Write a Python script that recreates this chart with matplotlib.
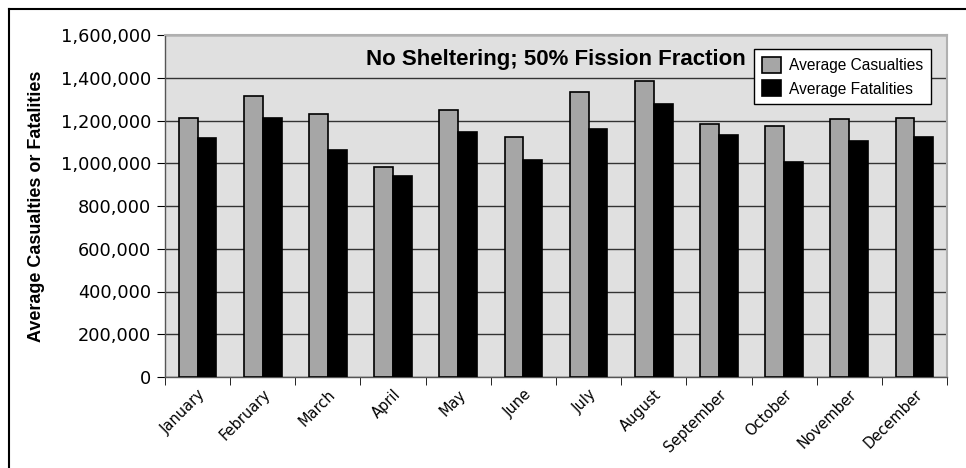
import matplotlib.pyplot as plt
import numpy as np
from matplotlib.ticker import FuncFormatter

months = ["January", "February", "March", "April", "May", "June", "July",
          "August", "September", "October", "November", "December"]
casualties = [1214000, 1314000, 1231000, 983000, 1250000, 1125000, 1335000,
              1386000, 1182000, 1176000, 1207000, 1214000]
fatalities = [1120000, 1214000, 1061000, 941000, 1147000, 1013000, 1159000,
              1279000, 1133000, 1008000, 1106000, 1123000]

plt.rcParams['font.family'] = ['DejaVu Sans']

fig = plt.figure(figsize=(9.66, 4.68), dpi=100)
ax = fig.add_axes([165/966, 91/468, 782/966, 342/468])

x = np.arange(len(months))
w = 0.29
ax.bar(x - w/2, casualties, w, color='#a6a6a6', edgecolor='black', linewidth=1.2,
       label='Average Casualties', zorder=3)
ax.bar(x + w/2, fatalities, w, color='black', edgecolor='black', linewidth=1.2,
       label='Average Fatalities', zorder=3)

ax.set_facecolor('#e0e0e0')
ax.set_xlim(-0.5, len(months) - 0.5)
ax.set_ylim(0, 1600000)
ax.set_yticks(np.arange(0, 1600001, 200000))
ax.yaxis.set_major_formatter(FuncFormatter(lambda v, p: f"{int(v):,}"))
ax.grid(axis='y', color='#333333', linewidth=1, zorder=1)

ax.set_xticks(x)
ax.set_xticklabels(months, rotation=45, ha='right', rotation_mode='anchor', fontsize=10.5)
ax.set_xticks(np.arange(-0.5, len(months)), minor=True)
ax.tick_params(axis='x', which='major', length=0, pad=7)
ax.tick_params(axis='x', which='minor', length=6, direction='out')
ax.tick_params(axis='y', length=6, direction='out', labelsize=12.8, pad=4)

for s in ['top', 'right']:
    ax.spines[s].set_color('#b0b0b0')
    ax.spines[s].set_linewidth(1.5)
for s in ['left', 'bottom']:
    ax.spines[s].set_color('#555555')
    ax.spines[s].set_linewidth(1)

ax.set_ylabel('Average Casualties or Fatalities', fontsize=13, fontweight='bold',
              labelpad=11, family='Liberation Sans')
ax.text(0.5, 0.927, 'No Sheltering; 50% Fission Fraction', transform=ax.transAxes,
        ha='center', va='center', fontsize=16, fontweight='bold', zorder=5,
        family='Liberation Sans')

leg = ax.legend(loc='upper right', bbox_to_anchor=(0.979, 0.958), borderaxespad=0,
                prop={'family': 'Liberation Sans', 'size': 11.2},
                fancybox=False, framealpha=1, edgecolor='black',
                handlelength=1.2, handleheight=1.2, borderpad=0.5, labelspacing=0.45,
                handletextpad=0.5)
leg.get_frame().set_linewidth(1)
leg.set_zorder(6)

# outer frame (top and left edges visible)
fig.add_artist(plt.Line2D([9/966, 1], [1 - 9/468, 1 - 9/468], color='black', lw=1.5))
fig.add_artist(plt.Line2D([9/966, 9/966], [0, 1 - 9/468], color='black', lw=1.5))

fig.savefig('out.png', dpi=100)
